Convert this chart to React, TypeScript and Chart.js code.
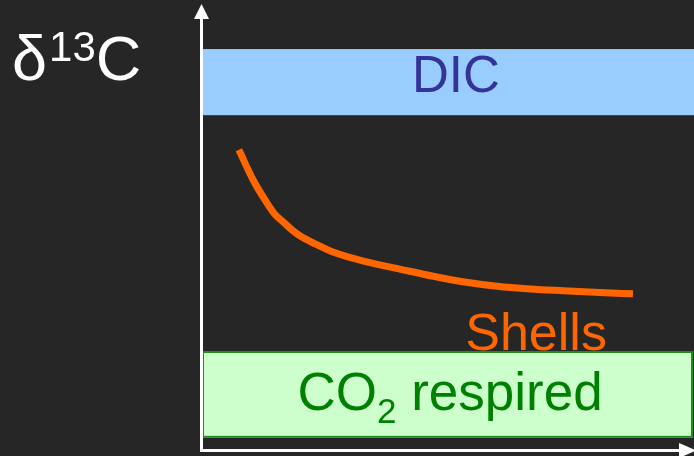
import React, { useEffect, useRef } from "react";
import { Chart, registerables } from "chart.js";

Chart.register(...registerables);

// Shell δ13C curve (arbitrary units, x: time/depth 0–100, y: δ13C 0–100)
const shellX = [7.5, 10.4, 13.2, 14.8, 16.5, 18.3, 19.9, 23.0, 26.6, 33.5, 40.2, 47.0, 53.0, 60.0, 66.7, 73.4, 80.9, 87.6];
const shellY = [66.7, 60.0, 54.9, 52.4, 50.7, 48.9, 47.6, 45.8, 44.0, 41.8, 40.2, 38.6, 37.4, 36.4, 35.8, 35.4, 35.0, 34.7];

// Reference bands (y ranges) and their x extent
const dicBand = [74.4, 89.1];
const co2Band = [2.7, 22.0];
const bandX = [0, 99.8];

const axisRange = { xMin: 0, xMax: 100, yMin: 0, yMax: 100 };

const FONT = '"Liberation Sans", Arial, sans-serif';

const decorPlugin = {
  id: "decor",
  beforeDraw(chart: any) {
    const { ctx, width, height } = chart;
    ctx.save();
    ctx.fillStyle = "#262626";
    ctx.fillRect(0, 0, width, height);
    ctx.restore();
  },
  beforeDatasetsDraw(chart: any) {
    const { ctx } = chart;
    const xs = chart.scales.x;
    const ys = chart.scales.y;
    ctx.save();
    // DIC band
    const dx0 = xs.getPixelForValue(bandX[0]) + 1;
    const dx1 = chart.width;
    const dy0 = ys.getPixelForValue(dicBand[1]);
    const dy1 = ys.getPixelForValue(dicBand[0]);
    ctx.fillStyle = "#99CCFF";
    ctx.fillRect(dx0, dy0, dx1 - dx0, dy1 - dy0);
    // CO2 band
    const gx0 = xs.getPixelForValue(bandX[0]);
    const gx1 = xs.getPixelForValue(bandX[1]);
    const gy0 = ys.getPixelForValue(co2Band[1]);
    const gy1 = ys.getPixelForValue(co2Band[0]);
    ctx.fillStyle = "#CCFFCC";
    ctx.fillRect(gx0, gy0, gx1 - gx0, gy1 - gy0);
    ctx.strokeStyle = "#1E8C1E";
    ctx.lineWidth = 2;
    ctx.strokeRect(gx0 + 1, gy0 + 1, gx1 - gx0 - 2, gy1 - gy0 - 2);
    ctx.restore();
  },
  afterDatasetsDraw(chart: any) {
    const { ctx, chartArea } = chart;
    const xs = chart.scales.x;
    const ys = chart.scales.y;
    ctx.save();
    // Texts inside plot
    ctx.textBaseline = "alphabetic";
    ctx.font = `51px ${FONT}`;
    ctx.fillStyle = "#333399";
    ctx.textAlign = "center";
    ctx.fillText("DIC", xs.getPixelForValue(51.6), ys.getPixelForValue(79.6));
    ctx.fillStyle = "#FF6600";
    ctx.font = `52px ${FONT}`;
    ctx.fillText("Shells", xs.getPixelForValue(67.9), ys.getPixelForValue(22.2));
    // CO2 respired with subscript
    ctx.textAlign = "left";
    ctx.fillStyle = "#008000";
    const bx = xs.getPixelForValue(19.4);
    const by = ys.getPixelForValue(9.0);
    ctx.font = `53px ${FONT}`;
    ctx.fillText("CO", bx, by);
    let cx = bx + ctx.measureText("CO").width;
    ctx.font = `35px ${FONT}`;
    ctx.fillText("2", cx, by + 13);
    cx += ctx.measureText("2").width;
    ctx.font = `53px ${FONT}`;
    ctx.fillText(" respired", cx, by);

    // Axes with arrows
    const ax = chartArea.left;
    const ay = chartArea.bottom;
    ctx.fillStyle = "#FFFFFF";
    ctx.fillRect(ax - 2, 17, 3, ay + 2 - 17);
    ctx.fillRect(ax - 2, ay - 1, chart.width - ax - 10, 3);
    ctx.beginPath();
    ctx.moveTo(ax - 0.5, 4);
    ctx.lineTo(ax + 7, 19);
    ctx.lineTo(ax - 8, 19);
    ctx.closePath();
    ctx.fill();
    ctx.beginPath();
    ctx.moveTo(chart.width + 2, ay + 0.5);
    ctx.lineTo(chart.width - 15, ay - 7);
    ctx.lineTo(chart.width - 15, ay + 8);
    ctx.closePath();
    ctx.fill();

    // Y axis title δ13C
    ctx.fillStyle = "#FFFFFF";
    ctx.textAlign = "left";
    ctx.font = `63px ${FONT}`;
    let tx = 12;
    const tb = 80;
    ctx.fillText("δ", tx, tb);
    tx += ctx.measureText("δ").width;
    ctx.font = `42px ${FONT}`;
    ctx.fillText("13", tx + 2, tb - 19);
    tx += ctx.measureText("13").width + 2;
    ctx.font = `63px ${FONT}`;
    ctx.fillText("C", tx, tb);
    ctx.restore();
  },
};

export default function App() {
  const ref = useRef<HTMLCanvasElement | null>(null);
  useEffect(() => {
    if (!ref.current) return;
    const chart = new Chart(ref.current, {
      type: "line",
      data: {
        datasets: [
          {
            label: "Shells",
            data: shellX.map((x, i) => ({ x, y: shellY[i] })),
            borderColor: "#FF6600",
            borderWidth: 7,
            borderCapStyle: "butt",
            pointRadius: 0,
            cubicInterpolationMode: "monotone",
            fill: false,
          },
        ],
      },
      options: {
        responsive: false,
        animation: false,
        devicePixelRatio: 1,
        layout: { padding: { left: 202, right: 0, top: 0, bottom: 6 } },
        plugins: { legend: { display: false }, tooltip: { enabled: false } },
        scales: {
          x: { type: "linear", min: axisRange.xMin, max: axisRange.xMax, display: false },
          y: { type: "linear", min: axisRange.yMin, max: axisRange.yMax, display: false },
        },
      },
      plugins: [decorPlugin],
    } as any);
    return () => chart.destroy();
  }, []);
  return (
    <div style={{ position: "absolute", left: 0, top: 0, width: 694, height: 456 }}>
      <canvas ref={ref} width={694} height={456} style={{ display: "block" }} />
    </div>
  );
}
